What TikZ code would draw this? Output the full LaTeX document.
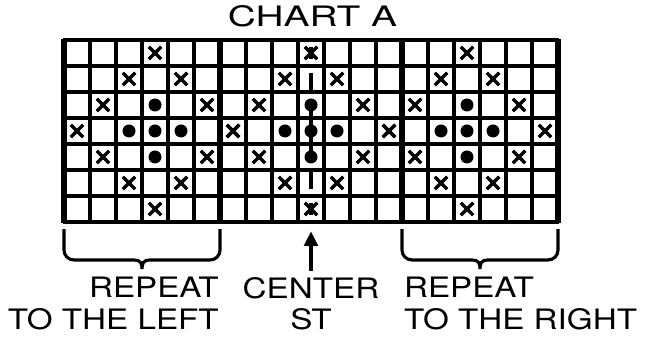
\documentclass[tikz,border=0pt]{standalone}
\usepackage{fontspec}
\setmainfont{TeX Gyre Heros}[FakeStretch=1.18]
\usetikzlibrary{arrows.meta}

\tikzset{
  lbl/.style={font=\fontsize{15.4}{17.4}\selectfont},
  thingrid/.style={line width=1.8pt},
  thickrule/.style={line width=3.2pt},
  markline/.style={line width=1.9pt},
  bracket/.style={line width=1.7pt},
}

\begin{document}
\begin{tikzpicture}[x=0.5cm,y=0.5cm]
    \useasboundingbox (-2.4615,-4.654) rectangle (22.538,8.538);

    % Judul
    \node[lbl,anchor=base] (title) at (9.56,7.5) {\scalebox{1.17}[1]{CHART A}};

    % Kisi 19 x 7 dan garis blok
    \foreach \x in {1,...,18} \draw[thingrid] (\x,0) -- (\x,7);
    \foreach \y in {0,...,7} \draw[thingrid] (-0.03,\y) -- (19.03,\y);
    \foreach \x in {0,6,13,19} \draw[thickrule] (\x,-0.03) -- (\x,7.03);

    % Tanda silang (pola berlian), pusat di kolom 3, 9, 15
    \foreach \cx in {3,9,15}
      \foreach \dx/\dy in {0/3,-1/2,1/2,-2/1,2/1,-3/0,3/0,-2/-1,2/-1,-1/-2,1/-2,0/-3} {
        \pgfmathsetmacro\px{\cx+\dx+0.5}
        \pgfmathsetmacro\py{3.5+\dy}
        \draw[markline] (\px-0.24,\py-0.24) -- (\px+0.24,\py+0.24)
                        (\px-0.24,\py+0.24) -- (\px+0.24,\py-0.24);
      }

    % Titik
    \foreach \cx in {3,9,15}
      \foreach \dx/\dy in {0/1,-1/0,0/0,1/0,0/-1} {
        \pgfmathsetmacro\px{\cx+\dx+0.5}
        \pgfmathsetmacro\py{3.5+\dy}
        \fill (\px,\py) circle (0.25);
      }

    % Garis tengah
    \draw[markline] (9.5,6.26) -- (9.5,6.74);
    \draw[markline] (9.5,5.72) -- (9.5,5);
    \draw[markline] (9.5,4.5) -- (9.5,2.5);
    \draw[markline] (9.5,2) -- (9.5,1.28);
    \draw[markline] (9.5,0.26) -- (9.5,0.74);

    % Kurung kiri dan kanan
    \draw[bracket] (0,-0.27) -- (0,-1.08) arc[start angle=180,end angle=270,radius=0.38]
        -- (2.7,-1.46) .. controls (2.95,-1.46) and (3,-1.6) .. (3,-1.81)
        .. controls (3,-1.6) and (3.05,-1.46) .. (3.3,-1.46)
        -- (5.62,-1.46) arc[start angle=270,end angle=360,radius=0.38] -- (6,-0.27);
    \draw[bracket] (13,-0.27) -- (13,-1.08) arc[start angle=180,end angle=270,radius=0.38]
        -- (15.7,-1.46) .. controls (15.95,-1.46) and (16,-1.6) .. (16,-1.81)
        .. controls (16,-1.6) and (16.05,-1.46) .. (16.3,-1.46)
        -- (18.62,-1.46) arc[start angle=270,end angle=360,radius=0.38] -- (19,-0.27);

    % Keterangan
    \node[lbl,align=right,anchor=north east] (lefttxt) at (6.2,-1.87) {REPEAT\\TO THE LEFT};
    \node[lbl,align=center,anchor=north] (centertxt) at (9.5,-1.87) {CENTER\\ST};
    \node[lbl,align=left,anchor=north west] (righttxt) at (12.83,-1.87) {REPEAT\\TO THE RIGHT};

    % Panah ke jahitan tengah
    \coordinate (centretip) at (9.5,-0.36);
    \draw[bracket,-{Triangle[length=8pt,width=7.5pt]}] (centertxt.north) -- (centretip);
\end{tikzpicture}
\end{document}
